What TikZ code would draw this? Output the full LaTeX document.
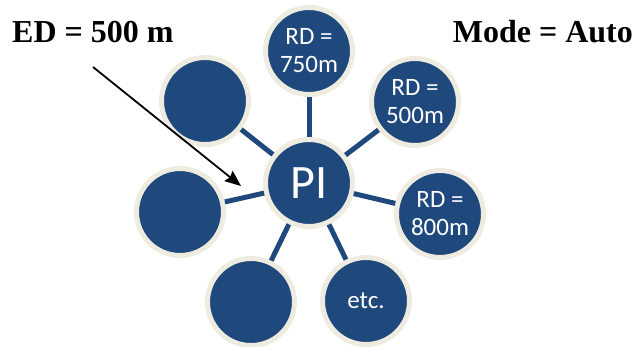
\documentclass[tikz,border=0pt]{standalone}
\usepackage{fontspec}
\setmainfont{Liberation Serif}
\newfontfamily\bubblefont{Carlito}
\usetikzlibrary{arrows.meta}
\definecolor{bubbleblue}{RGB}{31,73,125}
\definecolor{bubblerim}{RGB}{238,236,225}

\begin{document}
\begin{tikzpicture}[x=1pt, y=-1pt,
    bubble/.style={circle, draw=bubblerim, line width=5pt, fill=bubbleblue, minimum size=87pt, inner sep=0pt, align=center, text=white, font=\bubblefont\fontsize{25}{28}\selectfont},
    spoke/.style={draw=bubbleblue, line width=5pt},
    caption/.style={font=\bfseries\fontsize{32}{36}\selectfont, inner sep=0pt}]
    \useasboundingbox (0,0) rectangle (636,347);

    % Centre bubble
    \node[bubble, font=\bubblefont\fontsize{48}{54}\selectfont] (PI) at (309,183) {PI};

    % Surrounding bubbles
    \node[bubble] (R750) at (309,51) {RD =\\750m};
    \node[bubble] (R500) at (415,102) {RD =\\500m};
    \node[bubble] (R800) at (440,214) {RD =\\800m};
    \node[bubble] (Etc) at (366,301) {etc.};
    \node[bubble] (BL) at (251,302) {};
    \node[bubble] (L) at (180,212) {};
    \node[bubble] (UL) at (205,101) {};

    % Spokes
    \foreach \n in {R750, R500, R800, Etc, BL, L, UL}
        \draw[spoke] (PI) -- (\n);

    % Captions
    \node[caption, anchor=base west] (ED) at (12,43) {ED = 500 m};
    \node[caption, anchor=base east] (Mode) at (633,43) {Mode = Auto};

    % Pointer
    \coordinate (ArrowStart) at (93,67);
    \coordinate (ArrowEnd) at (241,186);
    \draw[line width=1.8pt, -{Stealth[length=16pt, width=13pt, inset=2pt]}] (ArrowStart) -- (ArrowEnd);
\end{tikzpicture}
\end{document}
